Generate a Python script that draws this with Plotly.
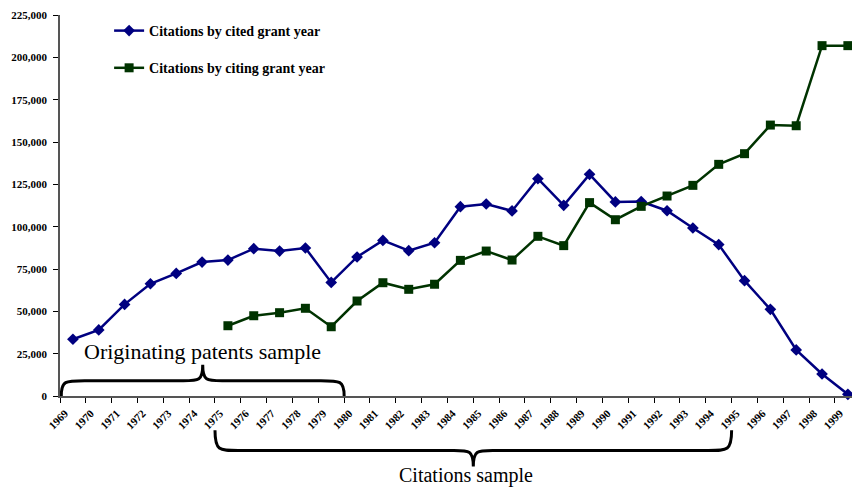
import plotly.graph_objects as go

years = list(range(1969, 2000))
cited = [33500, 39000, 54100, 66300, 72400, 79100, 80300, 87000, 85600, 87400,
         67100, 82100, 91900, 85800, 90500, 111800, 113400, 109300, 128300, 112600,
         130900, 114600, 114800, 109400, 99200, 89400, 68100, 51200, 27200, 13000, 1000]
citing_years = list(range(1975, 2000))
citing = [41500, 47400, 49200, 51800, 40900, 56100, 66900, 63000, 66000, 80100,
          85600, 80300, 94300, 88800, 114200, 104100, 112000, 118100, 124400, 136800,
          143100, 160000, 159600, 206900, 206900]
y_ticks = list(range(0, 225001, 25000))

BLUE = "#000080"
GREEN = "#003300"
SERIF = "Liberation Serif"

fig = go.Figure()
fig.add_trace(go.Scatter(
    x=years, y=cited, mode="lines+markers", name="Citations by cited grant year",
    line=dict(color=BLUE, width=2.5), marker=dict(symbol="diamond", size=9, color=BLUE),
    legendgroup="a", cliponaxis=False))
fig.add_trace(go.Scatter(
    x=citing_years, y=citing, mode="lines+markers", name="Citations by citing grant year",
    line=dict(color=GREEN, width=2.5), marker=dict(symbol="square", size=9, color=GREEN),
    legendgroup="b", cliponaxis=False))

# braces (x in year units, y in paper units)
def brace_up(x0, x1, yb, ym, yt):
    xc = (x0 + x1) / 2
    return (f"M {x0},{yb} C {x0},{ym} {x0+0.15},{ym} {x0+0.9},{ym} "
            f"L {xc-0.75},{ym} C {xc-0.15},{ym} {xc},{ym} {xc},{yt} "
            f"C {xc},{ym} {xc+0.15},{ym} {xc+0.75},{ym} "
            f"L {x1-0.9},{ym} C {x1-0.15},{ym} {x1},{ym} {x1},{yb}")

shapes = [
    dict(type="path", xref="x", yref="paper", path=brace_up(1968.55, 1979.5, 0.0, 0.040, 0.082),
         line=dict(color="black", width=3)),
    dict(type="path", xref="x", yref="paper", path=brace_up(1974.5, 1994.5, -0.090, -0.143, -0.185),
         line=dict(color="black", width=3)),
]

fig.update_layout(
    width=852, height=488,
    margin=dict(l=60, r=0, t=15, b=92, autoexpand=False),
    paper_bgcolor="white", plot_bgcolor="white",
    font=dict(family=SERIF, color="black"),
    showlegend=True,
    legend=dict(x=0.062, y=1.0, xanchor="left", yanchor="top",
                font=dict(family=SERIF, size=14, color="black", weight="bold"),
                tracegroupgap=16, bgcolor="rgba(0,0,0,0)", itemwidth=30),
    shapes=shapes,
    annotations=[
        dict(text="Originating patents sample", xref="x", yref="paper", x=1974.0, y=0.118,
             xanchor="center", yanchor="middle",
             showarrow=False, font=dict(family=SERIF, size=22, color="black")),
        dict(text="Citations sample", xref="x", yref="paper", x=1984.2, y=-0.209,
             xanchor="center", yanchor="middle",
             showarrow=False, font=dict(family=SERIF, size=20, color="black")),
    ],
)
fig.update_xaxes(
    range=[1968.5, 1999.16], showgrid=False, zeroline=False, automargin=False,
    showline=True, linecolor="#555555", linewidth=1.5,
    tickmode="array", tickvals=[y - 0.5 for y in years], ticktext=[str(y) for y in years],
    ticks="outside", ticklen=5, tickcolor="black", tickangle=-45, ticklabelshift=5,
    tickfont=dict(family=SERIF, size=11, color="black", weight="bold"),
)
fig.update_yaxes(
    range=[0, 225000], showgrid=False, zeroline=False, automargin=False,
    showline=True, linecolor="#555555", linewidth=1.5,
    tickmode="array", tickvals=y_ticks, ticktext=[f"{v:,}" for v in y_ticks],
    ticks="outside", ticklen=5, tickcolor="black", ticklabelstandoff=4,
    tickfont=dict(family=SERIF, size=11, color="black", weight="bold"),
)

fig.write_html("out.html", config={"displayModeBar": False},
               post_script="document.body.style.margin='0';")
